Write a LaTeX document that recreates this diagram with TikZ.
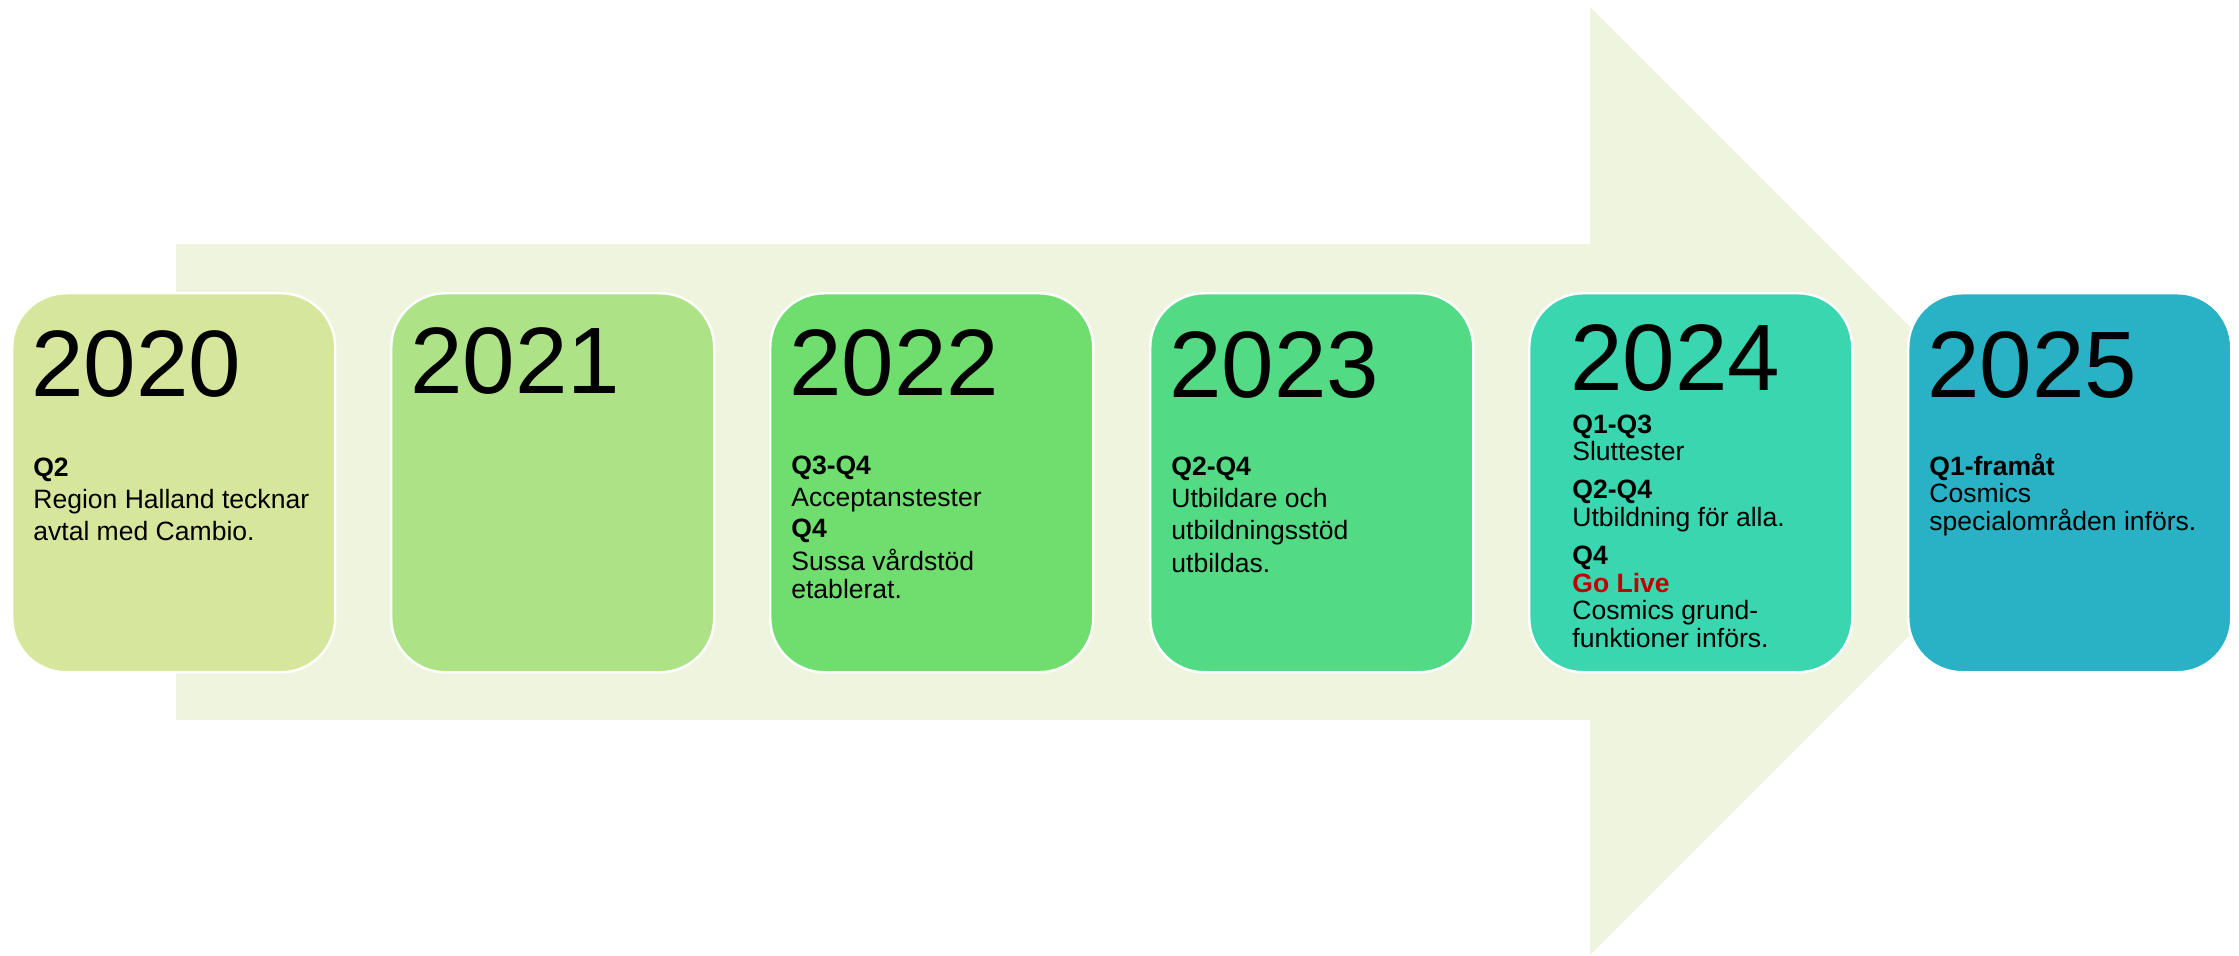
\documentclass[tikz,border=0pt]{standalone}
\usepackage{fontspec}
\setmainfont{Liberation Sans}
\definecolor{arrowfill}{HTML}{EEF4DE}
\definecolor{c2020}{HTML}{D6E69C}
\definecolor{c2021}{HTML}{ADE386}
\definecolor{c2022}{HTML}{70DE6F}
\definecolor{c2023}{HTML}{52DB84}
\definecolor{c2024}{HTML}{3AD6AF}
\definecolor{c2025}{HTML}{29B2C6}
\definecolor{golive}{HTML}{C00000}
\tikzset{
  card/.style={draw=white, line width=1.4pt, rounded corners=10.8mm,
    minimum width=64.6mm, minimum height=75.8mm, inner sep=0pt, anchor=north west},
  year/.style={anchor=base west, inner sep=0pt, font=\fontsize{53.7}{60}\selectfont},
  % placed at the baseline of the last line
  notes/.style={anchor=base west, inner sep=0pt, align=left,
    font=\fontsize{15.1}{15.65}\selectfont}
}
\begin{document}
\begin{tikzpicture}[x=0.2mm, y=-0.2mm]
  \useasboundingbox (0,0) rectangle (2239,955);
  % big arrow behind the cards
  \fill[arrowfill] (176,244) -- (1590,244) -- (1590,7) -- (2064,481)
    -- (1590,955) -- (1590,720) -- (176,720) -- cycle;
  % cards
  \node[card, fill=c2020] (b2020) at (11,292) {};
  \node[card, fill=c2021] (b2021) at (390,292) {};
  \node[card, fill=c2022] (b2022) at (769,292) {};
  \node[card, fill=c2023] (b2023) at (1149,292) {};
  \node[card, fill=c2024] (b2024) at (1528,292) {};
  \node[card, fill=c2025] (b2025) at (1907,292) {};
  % years
  \node[year] (y2020) at (31,396) {2020};
  \node[year] (y2021) at (410,393) {2021};
  \node[year] (y2022) at (789,395) {2022};
  \node[year] (y2023) at (1169,397) {2023};
  \node[year] (y2024) at (1570,390) {2024};
  \node[year] (y2025) at (1927,397) {2025};
  % notes
  \node[notes] (n2020) at (33,540) {\textbf{Q2}\\[3pt]
    Region Halland tecknar\\[2pt] avtal med Cambio.};
  \node[notes] (n2022) at (791,598) {\textbf{Q3-Q4}\\[2.5pt]
    Acceptanstester\\[2pt] \textbf{Q4}\\[3pt] Sussa vårdstöd\\ etablerat.};
  \node[notes] (n2023) at (1171,572) {\textbf{Q2-Q4}\\[2.5pt]
    Utbildare och\\[2.5pt] utbildningsstöd\\[3pt] utbildas.};
  \node[notes] (n2024) at (1572,647) {\textbf{Q1-Q3}\\ Sluttester\\[6pt]
    \textbf{Q2-Q4}\\ Utbildning för alla.\\[6pt] \textbf{Q4}\\
    \textcolor{golive}{\textbf{Go Live}}\\ Cosmics grund-\\ funktioner införs.};
  \node[notes] (n2025) at (1929,530) {\textbf{Q1-framåt}\\ Cosmics\\
    specialområden införs.};
\end{tikzpicture}
\end{document}
